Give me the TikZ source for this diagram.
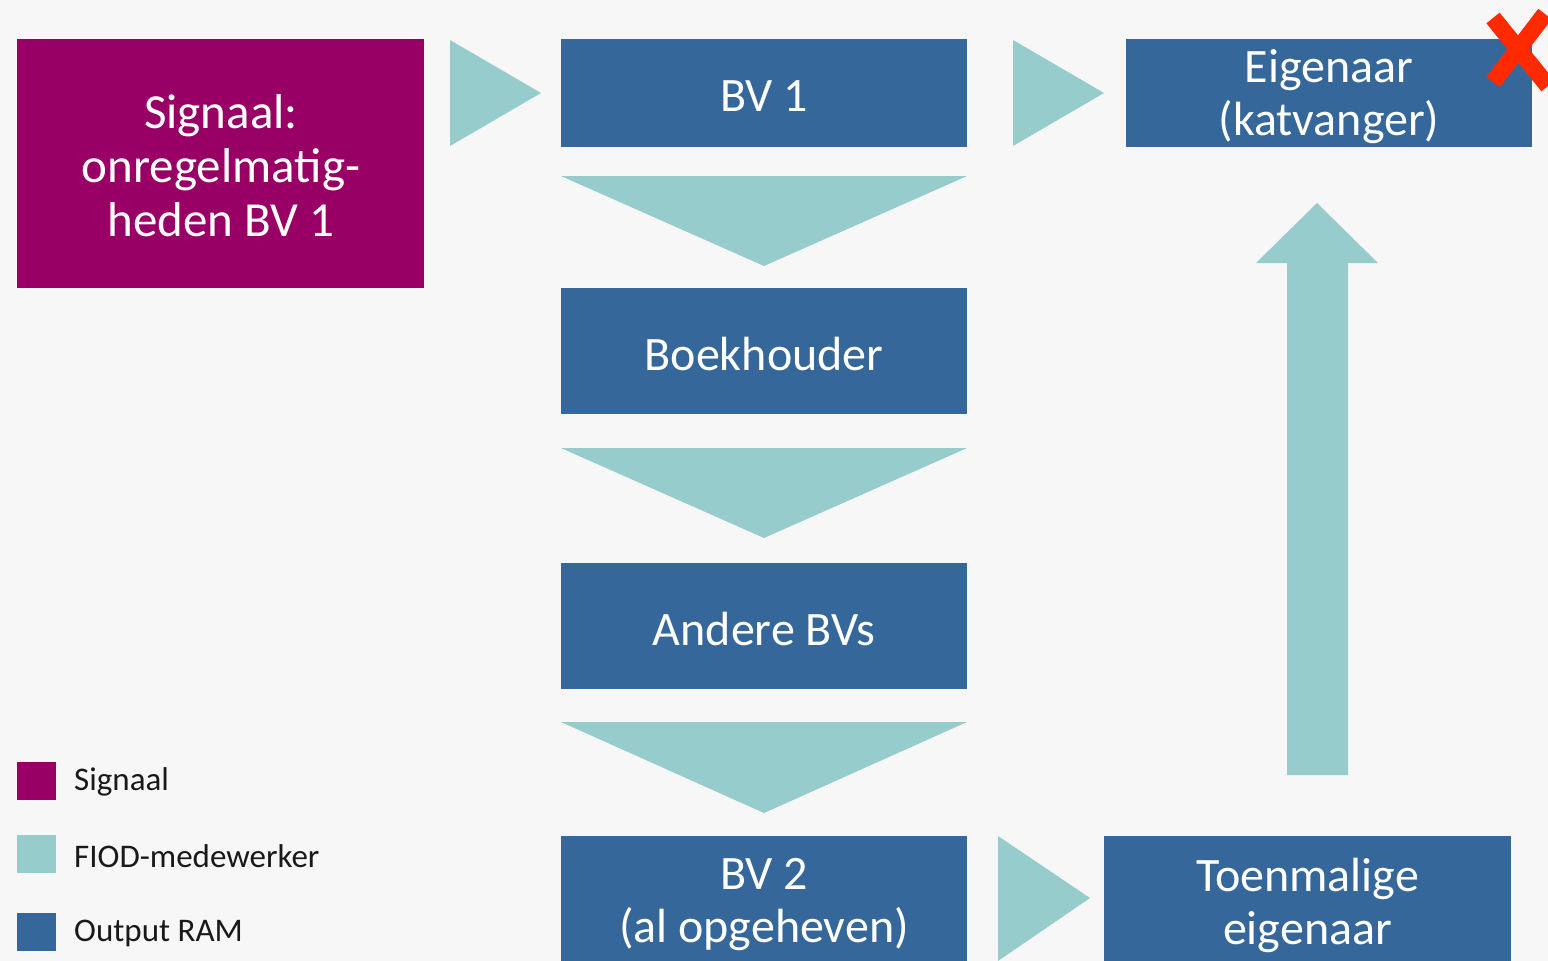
\documentclass[tikz,border=0pt]{standalone}
\usepackage{fontspec}
\setmainfont{Carlito}
\definecolor{bg}{HTML}{F7F7F7}
\definecolor{sig}{HTML}{990066}
\definecolor{ram}{HTML}{35679A}
\definecolor{fiod}{HTML}{96CCCB}
\definecolor{xred}{HTML}{FF2A00}
\begin{document}
\begin{tikzpicture}[x=1pt,y=-1pt,
  box/.style={fill=ram,inner sep=0pt},
  sigbox/.style={box,fill=sig},
  lbl/.style={text=white,inner sep=0pt,align=center,font=\fontsize{48}{53}\selectfont},
  tri/.style={fill=fiod,draw=none},
  leg/.style={inner sep=0pt,minimum width=39pt,minimum height=38pt},
  legtxt/.style={anchor=west,inner sep=0pt,font=\fontsize{33}{38}\selectfont,text=black!90}]
\fill[bg] (0,0) rectangle (1548,961);
\useasboundingbox (0,0) rectangle (1548,961);
% boxes
\node[sigbox,minimum width=407pt,minimum height=249pt] (sig) at (220.5,163.5) {};
\node[lbl,font=\fontsize{49}{54}\selectfont] (sigt) at (221,166) {Signaal:\\onregelmatig-\\heden BV 1};
\node[box,minimum width=406pt,minimum height=108pt] (bv1) at (764,93) {};
\node[lbl] (bv1t) at (764,96) {BV 1};
\node[box,minimum width=406pt,minimum height=108pt] (eig) at (1329,93) {};
\node[lbl] (eigt) at (1329,97) {Eigenaar\\(katvanger)};
\node[box,minimum width=406pt,minimum height=126pt] (boek) at (764,351) {};
\node[lbl] (boekt) at (764,354) {Boekhouder};
\node[box,minimum width=406pt,minimum height=126pt] (andere) at (764,626) {};
\node[lbl] (anderet) at (764,629) {Andere BVs};
\begin{scope}
\clip (0,0) rectangle (1548,961);
\node[box,minimum width=406pt,minimum height=160pt] (bv2) at (764,916) {};
\node[box,minimum width=407pt,minimum height=160pt] (toen) at (1307.5,916) {};
\end{scope}
\node[lbl] (bv2t) at (764,905) {BV 2\\(al opgeheven)};
\node[lbl] (toent) at (1307.5,905) {Toenmalige\\eigenaar};
% right-pointing triangles
\fill[tri] (450,40) -- (541,93) -- (450,146) -- cycle;
\fill[tri] (1013,40) -- (1104,93) -- (1013,146) -- cycle;
\fill[tri] (998,836) -- (1090,898) -- (998,961) -- cycle;
% down-pointing triangles
\fill[tri] (561,176) -- (967,176) -- (764,266) -- cycle;
\fill[tri] (561,448) -- (967,448) -- (764,538) -- cycle;
\fill[tri] (561,722) -- (967,722) -- (764,813) -- cycle;
% up arrow
\fill[tri] (1287,775) -- (1287,263) -- (1256,263) -- (1317,203) -- (1378,263) -- (1348,263) -- (1348,775) -- cycle;
% red cross
\draw[xred,line width=17pt] (1493,18) -- (1548,86);
\draw[xred,line width=17pt] (1493,82) -- (1545,14);
% legend
\node[leg,fill=sig] (l1) at (36.5,780.5) {};
\node[leg,fill=fiod] (l2) at (36.5,854) {};
\node[leg,fill=ram] (l3) at (36.5,932) {};
\node[legtxt] (l1t) at (74,782) {Signaal};
\node[legtxt] (l2t) at (74,856) {FIOD-medewerker};
\node[legtxt] (l3t) at (74,933) {Output RAM};
\end{tikzpicture}
\end{document}
